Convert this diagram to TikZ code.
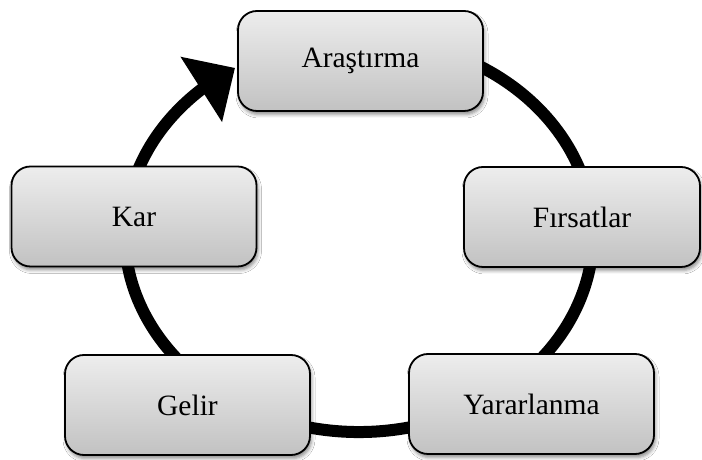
\documentclass[tikz,border=0pt]{standalone}
\usepackage{fontspec}
\setmainfont{Liberation Serif}
\usetikzlibrary{arrows.meta,bending,shadows.blur}
\begin{document}
\begin{tikzpicture}[x=1pt,y=1pt,
  stagebox/.style={draw=black, line width=1.8pt, rounded corners=19pt,
    minimum height=100pt, minimum width=245pt, inner sep=0pt,
    top color=black!7, bottom color=black!24,
    blur shadow={shadow xshift=1.5pt, shadow yshift=-3.5pt,
      shadow blur radius=3.5pt, shadow opacity=45},
    font=\fontsize{29.5pt}{35pt}\selectfont},
  ring/.style={line width=12pt,
    -{Triangle[length=40pt,width=75pt,flex]}}]
  % canvas
  \fill[white] (0,0) rectangle (702,460);
  \useasboundingbox (0,0) rectangle (702,460);

  % the cycle ring, running clockwise and ending in an arrow at the top
  \coordinate (ringc) at (359,225);
  \draw[ring] (ringc) ++(70:234 and 197)
    arc[start angle=70, end angle=-238, x radius=234, y radius=197];

  % stages of the cycle
  \node[stagebox] (ara) at (360.5,399) {Araştırma};
  \node[stagebox, minimum width=236pt] (firs) at (582,243) {Fırsatlar};
  \node[stagebox] (yar) at (531.5,56) {Yararlanma};
  \node[stagebox] (gel) at (187.5,55) {Gelir};
  \node[stagebox] (kar) at (134,243.5) {Kar};
\end{tikzpicture}
\end{document}
